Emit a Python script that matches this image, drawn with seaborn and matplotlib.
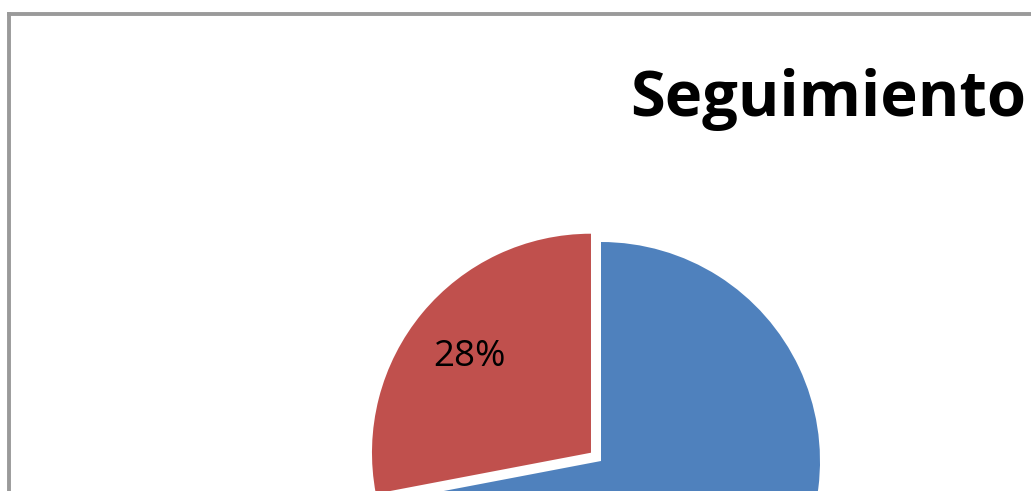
import matplotlib
matplotlib.use("Agg")
import matplotlib.pyplot as plt
import seaborn as sns

# Chart data (slice shares)
labels = ["Sí", "No"]
values = [72, 28]
colors = ["#4F81BD", "#C0504D"]
title = "Seguimiento"

sns.set_theme(style="white")
plt.rcParams["font.family"] = ["Open Sans", "DejaVu Sans"]

W, H = 1031, 491
fig = plt.figure(figsize=(W / 100, H / 100), dpi=100)
ax = fig.add_axes([0, 0, 1, 1])

# the pie is cropped by the picture frame, so work in pixel-like units
wedges, texts, autotexts = ax.pie(
    values,
    colors=colors,
    startangle=90,
    counterclock=False,
    explode=[0, 13],
    radius=219,
    center=(601, H - 461),
    autopct="%1.0f%%",
    pctdistance=0.72,
    textprops={"fontsize": 26.5, "color": "black"},
    wedgeprops={"linewidth": 0},
    frame=True,
)
# the blue slice's label falls outside the visible area
autotexts[0].set_visible(False)
autotexts[1].set_va("center_baseline")

ax.set_xlim(0, W)
ax.set_ylim(0, H)
ax.axis("off")

# chart area border (only top and left edges are visible)
ax.plot([9, W + 5], [H - 13.5, H - 13.5], color="#9A9A9A", lw=2.8,
        solid_capstyle="projecting", clip_on=False)
ax.plot([9, 9], [H - 13.5, -5], color="#9A9A9A", lw=2.8,
        solid_capstyle="projecting", clip_on=False)

ax.text(630, H - 116, title, fontsize=45.5, fontweight="bold",
        ha="left", va="baseline", color="black")

fig.savefig("out.png", dpi=100)
